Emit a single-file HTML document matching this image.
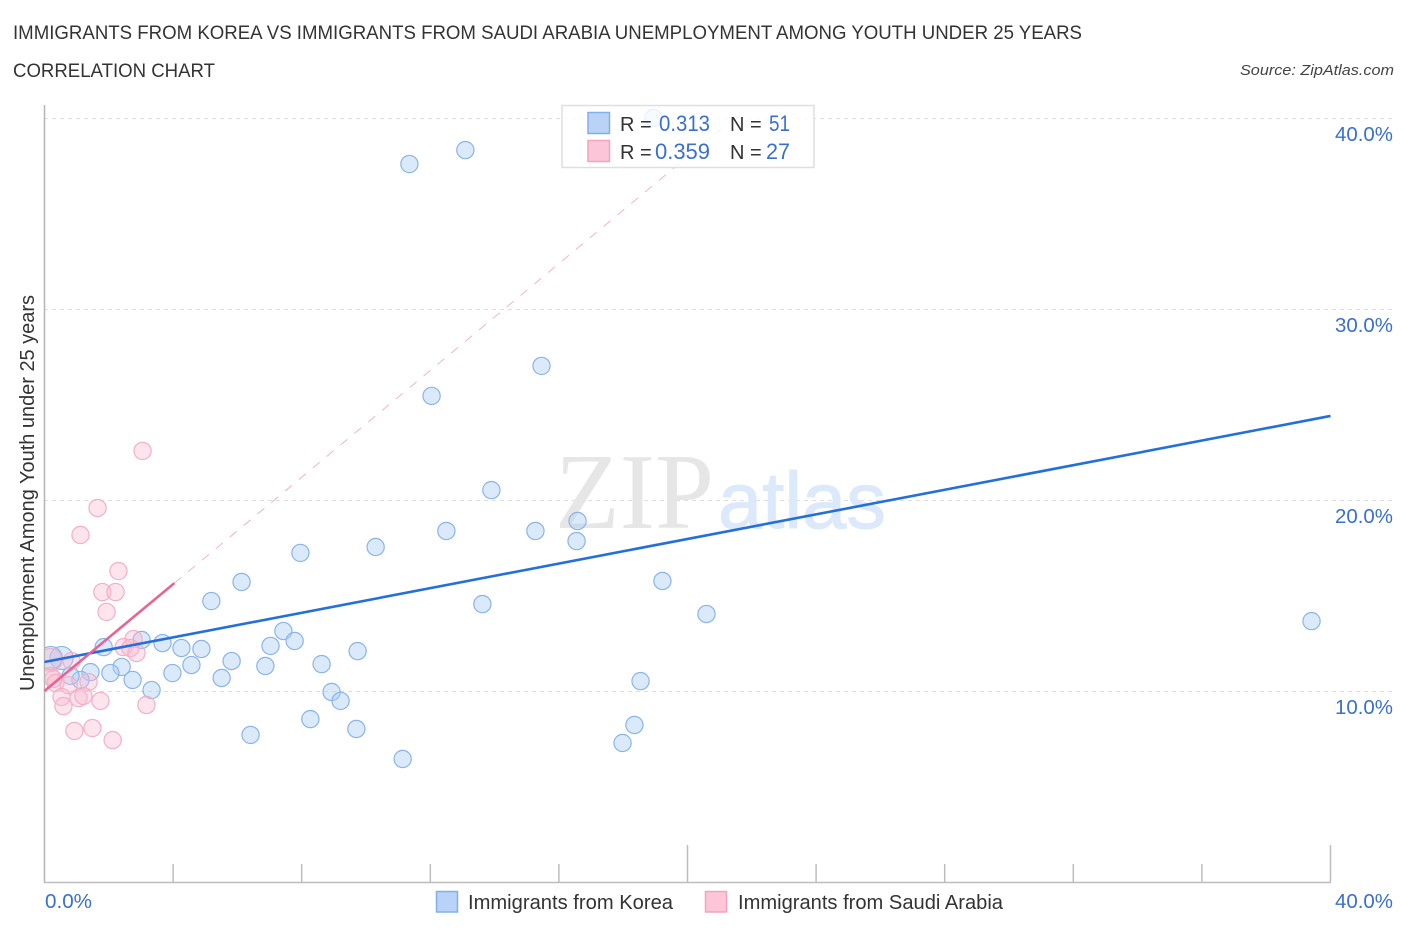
<!DOCTYPE html>
<html lang="en">
<head>
<meta charset="utf-8">
<title>Immigrants from Korea vs Immigrants from Saudi Arabia Unemployment Correlation Chart</title>
<style>
html,body{margin:0;padding:0;background:#fff;}
svg{display:block;font-family:"Liberation Sans",sans-serif;}
</style>
</head>
<body>
<svg id="chart" width="1406" height="930" viewBox="0 0 1406 930" xmlns="http://www.w3.org/2000/svg">
  <defs>
    <clipPath id="plot-clip"><rect x="45" y="100" width="1350" height="782"/></clipPath>
  </defs>
  <text x="13" y="39" font-size="19" fill="#333" textLength="1069" lengthAdjust="spacingAndGlyphs">IMMIGRANTS FROM KOREA VS IMMIGRANTS FROM SAUDI ARABIA UNEMPLOYMENT AMONG YOUTH UNDER 25 YEARS</text>
  <text x="13" y="77" font-size="19" fill="#333" textLength="202" lengthAdjust="spacingAndGlyphs">CORRELATION CHART</text>
  <text x="1394" y="75" font-size="15" font-style="italic" fill="#444" text-anchor="end" textLength="154" lengthAdjust="spacingAndGlyphs">Source: ZipAtlas.com</text>

  <g id="grid"></g>

  <text x="555" y="528" font-size="108" fill="#e6e6e6" style="font-family:'Liberation Serif',serif" textLength="159" lengthAdjust="spacingAndGlyphs">ZIP</text>
  <text x="718" y="528" font-size="80" fill="#dce9fb" stroke="#dce9fb" stroke-width="1" textLength="168" lengthAdjust="spacingAndGlyphs">atlas</text>

  <g id="axes"></g>
  <g id="points-korea" clip-path="url(#plot-clip)"></g>
  <g id="points-saudi" clip-path="url(#plot-clip)"></g>
  <g id="trends"></g>

  <text transform="translate(34,691) rotate(-90)" font-size="20" fill="#333" textLength="396" lengthAdjust="spacingAndGlyphs">Unemployment Among Youth under 25 years</text>

  <g>
    <rect x="562" y="105.500" width="252" height="62" fill="#fff" fill-opacity="0.8" stroke="#dfdfdf" stroke-width="1.500"/>
    <rect x="588" y="112.500" width="21.500" height="21" fill="#b8d3f7" stroke="#82b0ea" stroke-width="1.500"/>
    <rect x="588" y="140.500" width="21.500" height="21" fill="#fcc6d8" stroke="#f2a3bd" stroke-width="1.500"/>
    <text x="620" y="131" font-size="20" fill="#333">R =</text>
    <text x="659" y="131" font-size="22" fill="#3a70cc" textLength="51" lengthAdjust="spacingAndGlyphs">0.313</text>
    <text x="730" y="131" font-size="20" fill="#333">N =</text>
    <text x="769" y="131" font-size="22" fill="#3a70cc" textLength="21" lengthAdjust="spacingAndGlyphs">51</text>
    <text x="620" y="159" font-size="20" fill="#333">R =</text>
    <text x="655" y="159" font-size="22" fill="#3a70cc" textLength="55" lengthAdjust="spacingAndGlyphs">0.359</text>
    <text x="730" y="159" font-size="20" fill="#333">N =</text>
    <text x="766" y="159" font-size="22" fill="#3a70cc" textLength="24" lengthAdjust="spacingAndGlyphs">27</text>
  </g>

  <g>
    <rect x="436.500" y="891.500" width="21" height="20.500" fill="#b8d3f7" stroke="#82b0ea" stroke-width="1.500"/>
    <text x="468" y="909" font-size="20" fill="#333" textLength="205" lengthAdjust="spacingAndGlyphs">Immigrants from Korea</text>
    <rect x="705.500" y="891.500" width="21" height="20.500" fill="#fcc6d8" stroke="#f2a3bd" stroke-width="1.500"/>
    <text x="738" y="909" font-size="20" fill="#333" textLength="265" lengthAdjust="spacingAndGlyphs">Immigrants from Saudi Arabia</text>
  </g>
</svg>
<script>
const koreaX = [18.94,13.09,11.35,15.46,12.04,13.90,16.58,12.50,15.27,16.55,10.30,7.96,6.13,19.22,5.19,13.62,20.59,39.41,7.43,7.78,3.02,1.84,3.67,4.26,4.88,7.03,9.74,5.82,4.57,6.87,8.62,2.40,1.43,2.05,3.98,2.74,5.51,1.12,18.54,3.33,8.93,9.21,8.27,18.35,9.70,6.41,17.98,11.14,0.81,0.53,0.19];
const koreaY = [40.00,38.32,37.59,27.02,25.45,20.52,18.90,18.38,18.38,17.85,17.54,17.23,15.71,15.76,14.71,14.55,14.03,13.66,13.14,12.62,12.67,12.30,12.51,12.25,12.20,12.36,12.09,11.57,11.36,11.31,11.41,11.26,10.99,10.94,10.94,10.58,10.68,10.58,10.52,10.05,9.95,9.48,8.53,8.22,8.01,7.70,7.28,6.44,10.79,11.73,11.73];
const koreaWeight = [1,1,1,1,1,1,1,1,1,1,1,1,1,1,1,1,1,1,1,1,1,1,1,1,1,1,1,1,1,1,1,1,1,1,1,1,1,1,1,1,1,1,1,1,1,1,1,1,1,1.8,1.8];
const saudiX = [3.05,1.65,1.12,2.30,1.80,2.21,1.93,2.77,2.46,2.67,2.86,0.84,0.19,0.28,0.19,0.34,0.75,1.37,0.53,0.59,1.06,1.21,1.74,3.17,0.93,1.49,2.12];
const saudiY = [22.57,19.58,18.17,16.28,15.18,15.18,14.14,12.72,12.30,12.25,11.99,11.57,11.62,10.63,10.79,10.42,10.31,10.47,9.69,9.21,9.63,9.74,9.48,9.27,7.91,8.06,7.43];
const saudiWeight = [1,1,1,1,1,1,1,1,1,1,1,1,1.8,1,1,1,1,1,1,1,1,1,1,1,1,1,1];
const koreaTrendX = [0,40];
const koreaTrendY = [11.52,24.4];
const saudiTrendX = [0,4.04];
const saudiTrendY = [10,15.65];
const saudiDashX = [4.04,21.45];
const saudiDashY = [15.65,40];
const yTicks = [10,20,30,40];
const yTickLabels = ['10.0%','20.0%','30.0%','40.0%'];
const xTicks = [0,4,8,12,16,20,24,28,32,36,40];
const xMajorTicks = [20,40];
const xEndLabels = ['0.0%','40.0%'];

const NS = 'http://www.w3.org/2000/svg';
const xScale = v => 44.5 + v * 32.15;
const yScale = v => 882 - v * 19.1;
function mk(parent, tag, attrs) {
  const el = document.createElementNS(NS, tag);
  for (const k in attrs) el.setAttribute(k, attrs[k]);
  parent.appendChild(el);
  return el;
}
const grid = document.getElementById('grid');
const axes = document.getElementById('axes');
const trends = document.getElementById('trends');

yTicks.forEach((t, i) => {
  const gy = Math.round(yScale(t)) + 0.5;
  const line = mk(grid, 'line', {x1: 44, x2: 1393, y1: gy, y2: gy, stroke: '#dedede', 'stroke-width': 1, 'stroke-dasharray': '4 4'});
  
  
  const label = mk(axes, 'text', {x: 1393, y: yScale(t) + 23, 'font-size': 20, fill: '#3a70cc', 'text-anchor': 'end', textLength: 58, lengthAdjust: 'spacingAndGlyphs'});
  label.textContent = yTickLabels[i];
  
  
});

const yAxis = mk(axes, 'line', {x1: 44.5, x2: 44.5, y1: 105, y2: 883, stroke: '#b4b4b4', 'stroke-width': 1.5});


const xAxis = mk(axes, 'line', {x1: 44, x2: 1331, y1: 882.5, y2: 882.5, stroke: '#bdbdbd', 'stroke-width': 1.5});



xTicks.slice(1).forEach(t => {
  const top = xMajorTicks.includes(t) ? 845 : 864;
  const tick = mk(axes, 'line', {x1: xScale(t), x2: xScale(t), y1: top, y2: 882, stroke: '#bdbdbd', 'stroke-width': 1.5});
  
  
});

const xLabelStart = mk(axes, 'text', {x: 45, y: 908, 'font-size': 20, fill: '#3a70cc', textLength: 47, lengthAdjust: 'spacingAndGlyphs'});
xLabelStart.textContent = xEndLabels[0];


const xLabelEnd = mk(axes, 'text', {x: 1393, y: 908, 'font-size': 20, fill: '#3a70cc', 'text-anchor': 'end', textLength: 58, lengthAdjust: 'spacingAndGlyphs'});
xLabelEnd.textContent = xEndLabels[1];



const koreaGroup = document.getElementById('points-korea');
koreaX.forEach((v, i) => {
  const c = mk(koreaGroup, 'circle', {cx: xScale(v), cy: yScale(koreaY[i]), r: 8.6 * Math.sqrt(koreaWeight[i]), fill: 'rgba(170,204,245,0.42)', stroke: '#8ab4e8', 'stroke-width': 1.2});
  
  
});
const saudiGroup = document.getElementById('points-saudi');
saudiX.forEach((v, i) => {
  const c = mk(saudiGroup, 'circle', {cx: xScale(v), cy: yScale(saudiY[i]), r: 8.6 * Math.sqrt(saudiWeight[i]), fill: 'rgba(250,185,207,0.38)', stroke: '#f2afc6', 'stroke-width': 1.2});
  
  
});

const saudiDash = mk(trends, 'line', {x1: xScale(saudiDashX[0]), y1: yScale(saudiDashY[0]), x2: xScale(saudiDashX[1]), y2: yScale(saudiDashY[1]), stroke: '#eeb4c8', 'stroke-width': 1, 'stroke-dasharray': '9 9'});


const koreaTrend = mk(trends, 'line', {x1: xScale(koreaTrendX[0]), y1: yScale(koreaTrendY[0]), x2: xScale(koreaTrendX[1]), y2: yScale(koreaTrendY[1]), stroke: '#2370d8', 'stroke-width': 2.6});


const saudiTrend = mk(trends, 'line', {x1: xScale(saudiTrendX[0]), y1: yScale(saudiTrendY[0]), x2: xScale(saudiTrendX[1]), y2: yScale(saudiTrendY[1]), stroke: '#e66595', 'stroke-width': 2.6});


</script>
</body>
</html>
